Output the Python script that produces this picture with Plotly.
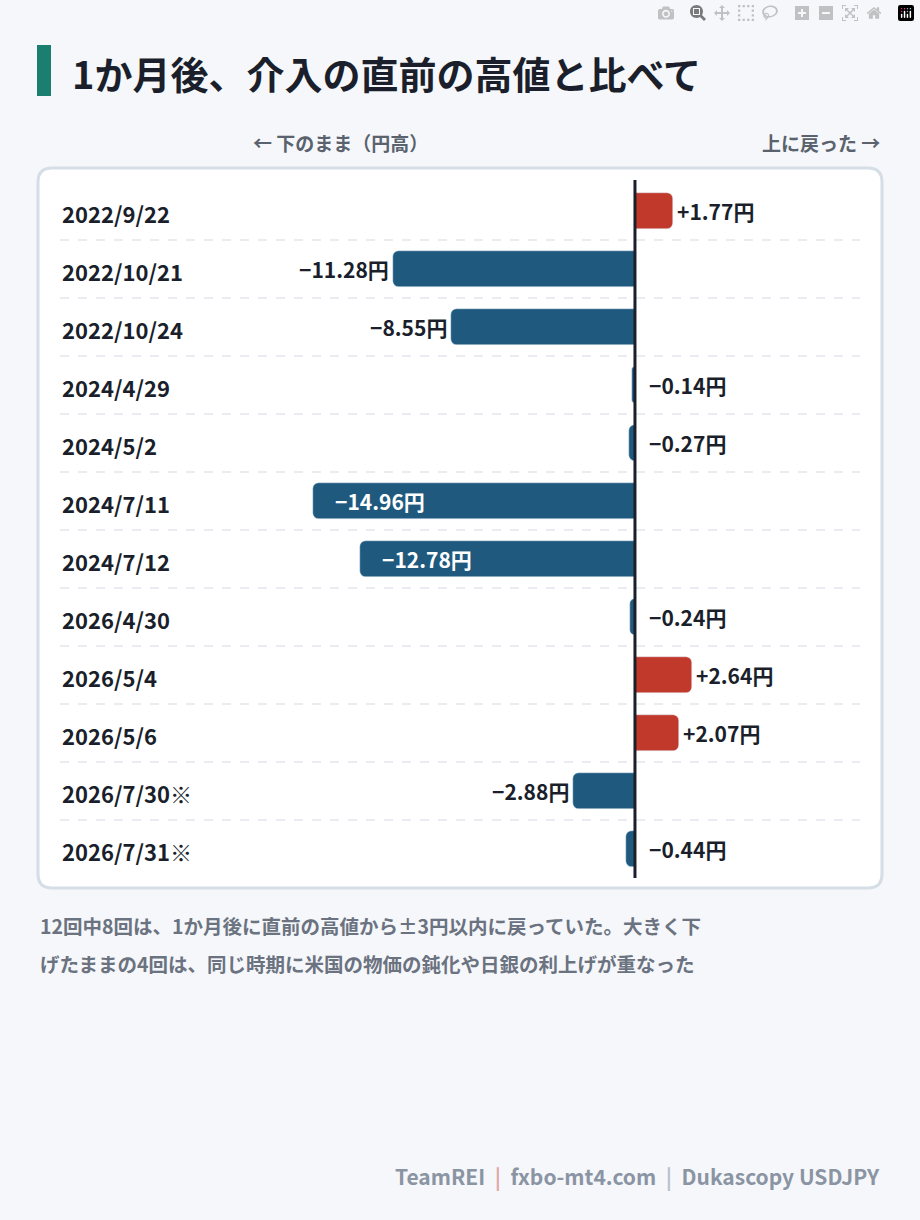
import plotly.graph_objects as go

dates = ["2022/9/22", "2022/10/21", "2022/10/24", "2024/4/29", "2024/5/2", "2024/7/11",
         "2024/7/12", "2026/4/30", "2026/5/4", "2026/5/6", "2026/7/30※", "2026/7/31※"]
values = [1.77, -11.28, -8.55, -0.14, -0.27, -14.96, -12.78, -0.24, 2.64, 2.07, -2.88, -0.44]
labels = ["+1.77円", "−11.28円", "−8.55円", "−0.14円", "−0.27円", "−14.96円",
          "−12.78円", "−0.24円", "+2.64円", "+2.07円", "−2.88円", "−0.44円"]

W, H = 920, 1220
FONT = "Noto Sans CJK JP"
BLUE, RED = "#1f5a7e", "#c0392b"
px = lambda x: x / W
py = lambda y: 1 - y / H

y_top, y_bot = 182, 878
n = len(dates)
row_h = (y_bot - y_top) / n
xr = [-16.05, 10.47]

fig = go.Figure(go.Bar(
    x=values, y=list(range(n)), orientation="h",
    marker=dict(color=[RED if v > 0 else BLUE for v in values], cornerradius=6),
    width=0.62, hoverinfo="skip"))

ann = []
for i, (v, t) in enumerate(zip(values, labels)):
    if v > 0:
        ann.append(dict(x=v, y=i, text=t, xanchor="left", xshift=2, font=dict(color="#1a1f2b")))
    elif abs(v) < 1:
        ann.append(dict(x=0, y=i, text=t, xanchor="left", xshift=12, font=dict(color="#1a1f2b")))
    elif abs(v) > 12:
        ann.append(dict(x=v, y=i, text=t, xanchor="left", xshift=20, font=dict(color="white")))
    else:
        ann.append(dict(x=v, y=i, text=t, xanchor="right", xshift=-2, font=dict(color="#1a1f2b")))
for a in ann:
    a.update(xref="x", yref="y", showarrow=False, yanchor="middle", text="<b>" + a["text"] + "</b>")
    a["font"].update(size=21, family=FONT)

for i, d in enumerate(dates):
    ann.append(dict(x=px(60), y=py(y_top + row_h * (i + 0.5) + 2), xref="paper", yref="paper",
                    text="<b>" + d + "</b>", xanchor="left", yanchor="middle", showarrow=False,
                    font=dict(size=22, family=FONT, color="#1a1f2b")))

extra = [
    dict(x=px(70), y=py(72), text="<b>1か月後、介入の直前の高値と比べて</b>", xanchor="left",
         font=dict(size=38, color="#1a1f2b")),
    dict(x=px(340), y=py(142), text="<b>← 下のまま（円高）</b>", font=dict(size=19, color="#5a626e")),
    dict(x=px(882), y=py(142), text="<b>上に戻った →</b>", xanchor="right", font=dict(size=19, color="#5a626e")),
    dict(x=px(38), y=py(925), xanchor="left",
         text="<b>12回中8回は、1か月後に直前の高値から±3円以内に戻っていた。大きく下</b>",
         font=dict(size=19.5, color="#6b7280")),
    dict(x=px(38), y=py(963), xanchor="left",
         text="<b>げたままの4回は、同じ時期に米国の物価の鈍化や日銀の利上げが重なった</b>",
         font=dict(size=19.5, color="#6b7280")),
    dict(x=px(882), y=py(1176), xanchor="right",
         text="<b>TeamREI  <span style='color:#e0a8a8'>|</span>  fxbo-mt4.com  "
              "<span style='color:#b8c0cc'>|</span>  Dukascopy USDJPY</b>",
         font=dict(size=21, color="#8a94a3")),
]
for a in extra:
    a.update(xref="paper", yref="paper", showarrow=False, yanchor="middle")
    a["font"]["family"] = FONT
ann += extra

shapes = [
    dict(type="path", xref="paper", yref="paper", layer="below",
         path=f"M {px(52)},{py(168)} L {px(868)},{py(168)} Q {px(882)},{py(168)} {px(882)},{py(182)} "
              f"L {px(882)},{py(874)} Q {px(882)},{py(888)} {px(868)},{py(888)} "
              f"L {px(52)},{py(888)} Q {px(38)},{py(888)} {px(38)},{py(874)} "
              f"L {px(38)},{py(182)} Q {px(38)},{py(168)} {px(52)},{py(168)} Z",
         fillcolor="white", line=dict(color="#d5dde6", width=3)),
    dict(type="rect", xref="paper", yref="paper", x0=px(37), x1=px(51), y0=py(45), y1=py(96),
         fillcolor="#1a7f6e", line=dict(width=0)),
]
for i in range(1, n):
    yy = py(y_top + row_h * i)
    shapes.append(dict(type="line", xref="paper", yref="paper", x0=px(60), x1=px(860), y0=yy, y1=yy,
                       layer="below", line=dict(color="#e2e6ec", width=1.5, dash="dash")))
shapes.append(dict(type="line", xref="x", yref="paper", x0=0, x1=0, y0=py(180), y1=py(878),
                   line=dict(color="#1a1f2b", width=3)))

fig.update_layout(
    width=W, height=H, margin=dict(l=0, r=0, t=0, b=0),
    paper_bgcolor="#f5f7fa", plot_bgcolor="rgba(0,0,0,0)", showlegend=False,
    font=dict(family=FONT),
    xaxis=dict(range=xr, domain=[px(290), px(860)], visible=False, fixedrange=True),
    yaxis=dict(range=[n - 0.5, -0.5], domain=[py(y_bot), py(y_top)], visible=False),
    annotations=ann, shapes=shapes, bargap=0)
fig.write_html("out.html", post_script="document.body.style.margin='0';")
